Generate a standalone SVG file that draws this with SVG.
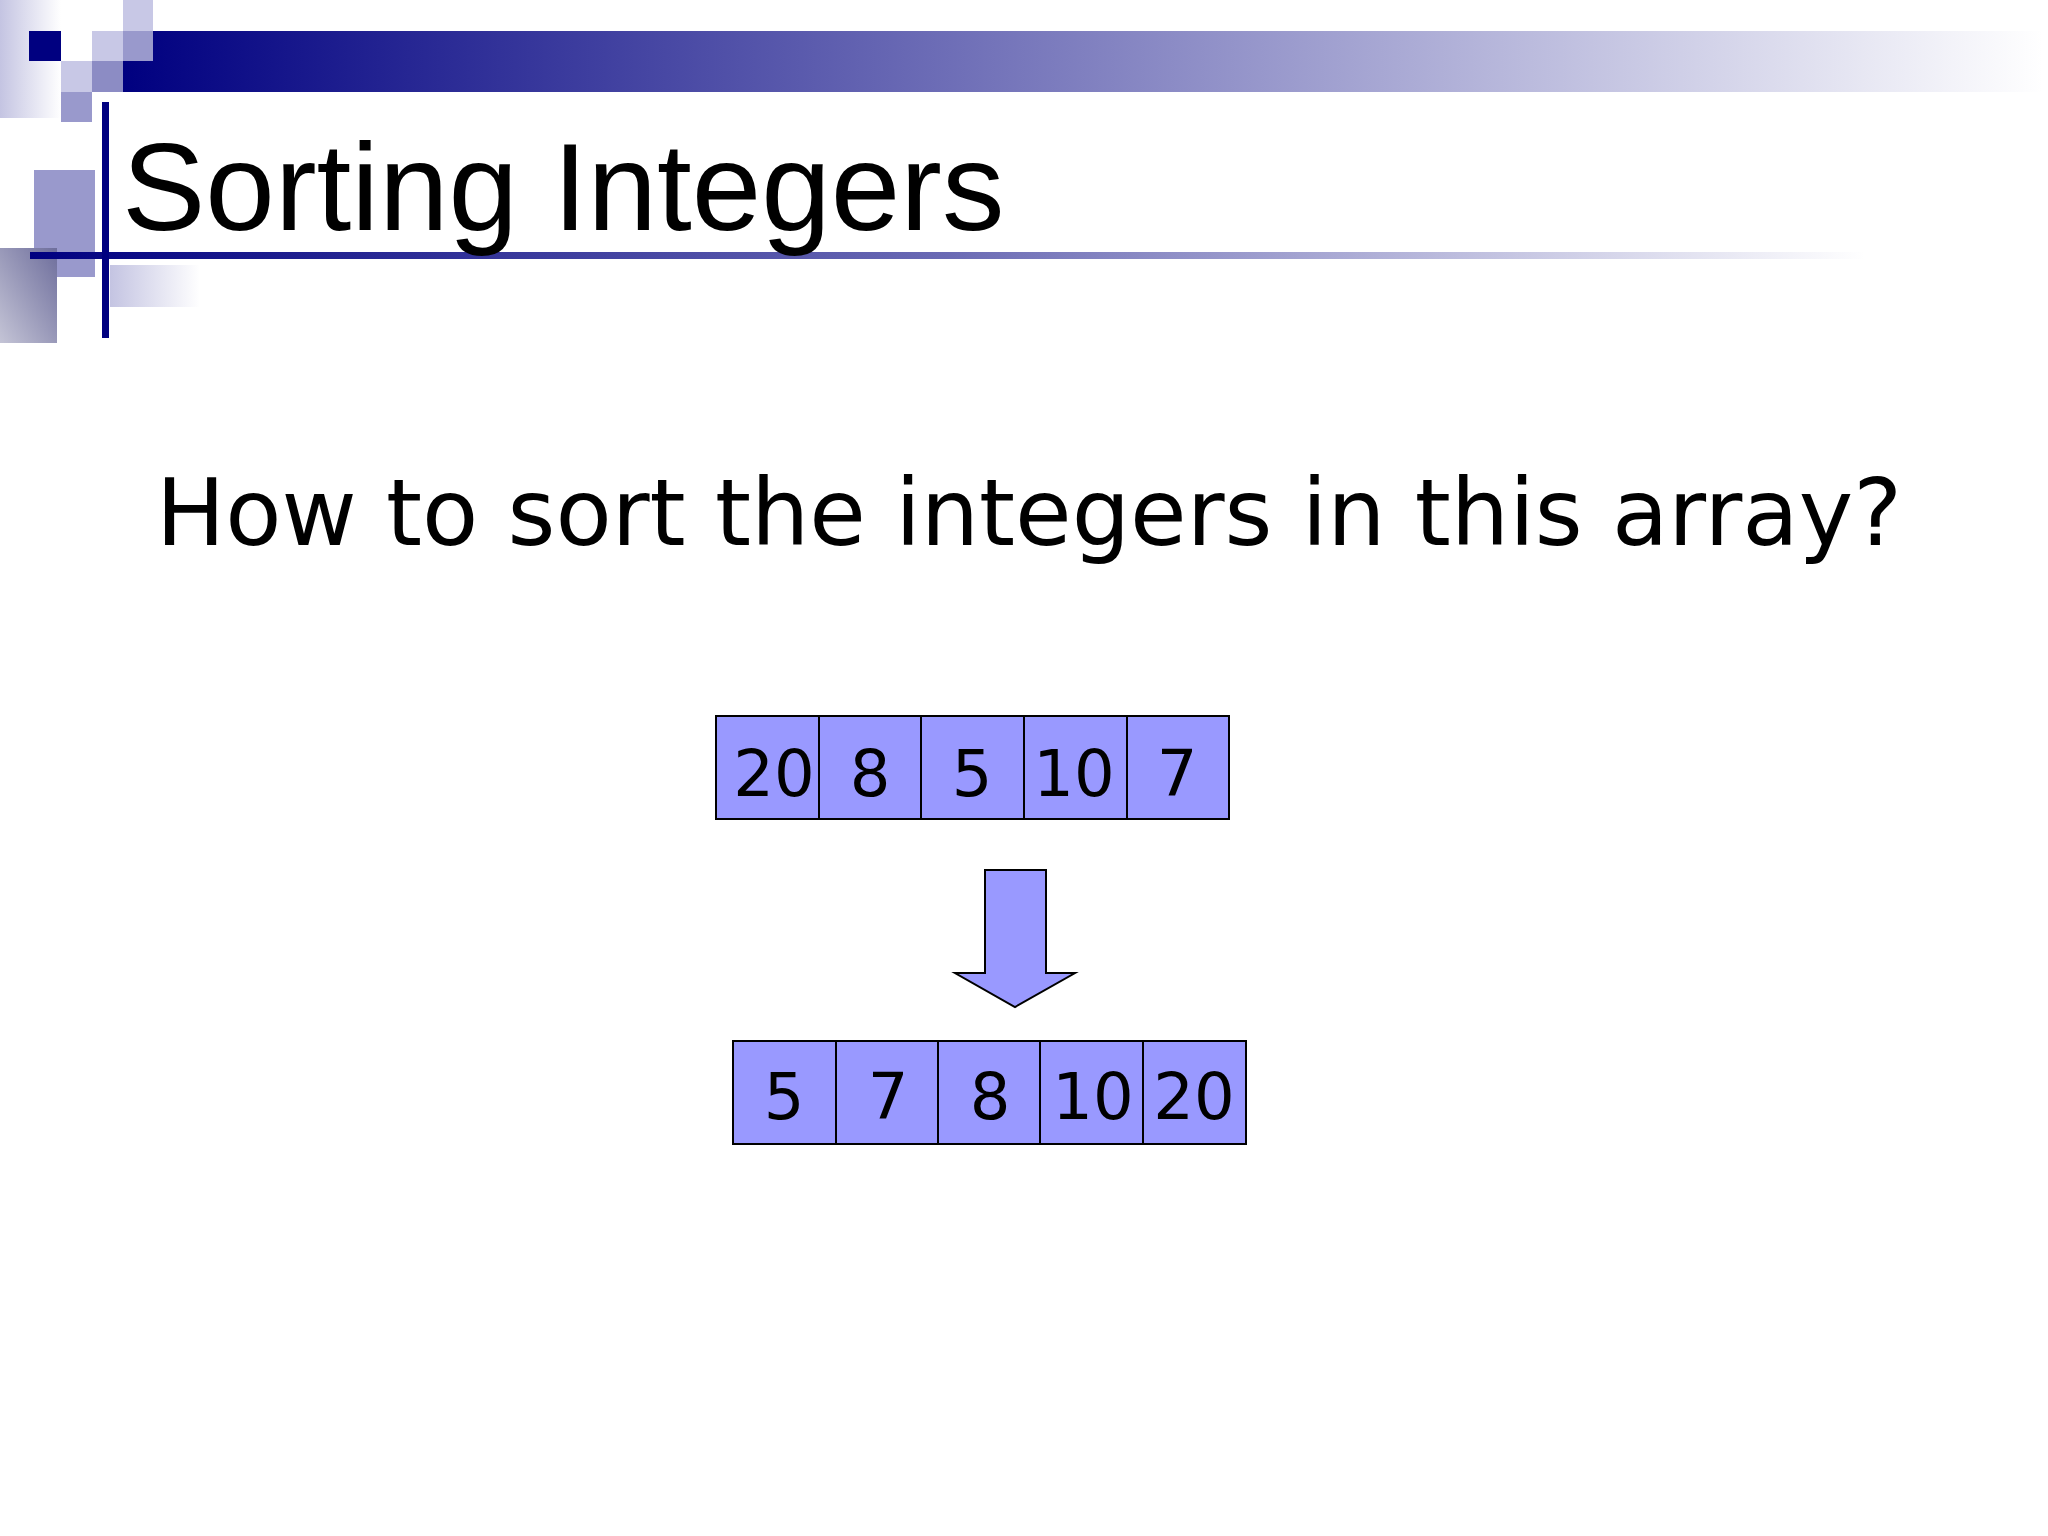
<svg xmlns="http://www.w3.org/2000/svg" width="2048" height="1536" viewBox="0 0 2048 1536">
  <defs>
    <linearGradient id="band" x1="0" y1="0" x2="1" y2="0">
      <stop offset="0" stop-color="#000080"/>
      <stop offset="1" stop-color="#ffffff"/>
    </linearGradient>
    <linearGradient id="rule" x1="0" y1="0" x2="1" y2="0">
      <stop offset="0" stop-color="#000080"/>
      <stop offset="0.5" stop-color="#6a6ab4"/>
      <stop offset="1" stop-color="#ffffff"/>
    </linearGradient>
    <linearGradient id="lightL" x1="0" y1="0" x2="1" y2="0">
      <stop offset="0" stop-color="#c4c4e2"/>
      <stop offset="1" stop-color="#ffffff"/>
    </linearGradient>
    <linearGradient id="graySq" x1="1" y1="0" x2="0" y2="1">
      <stop offset="0" stop-color="#6e6e9c"/>
      <stop offset="1" stop-color="#c4c4d6"/>
    </linearGradient>
    <style>
      .cell { fill: #9999ff; stroke: #000000; stroke-width: 2; }
      .num { font-family: "DejaVu Sans", Verdana, sans-serif; font-size: 64px; fill: #000000; text-anchor: middle; }
      .navy { fill: #000080; }
      .light { fill: #c8c8e6; }
      .mid { fill: #9999cc; }
    </style>
  </defs>
  <rect width="2048" height="1536" fill="#ffffff"/>

  <g id="decoration">
    <rect x="0" y="0" width="61" height="118" fill="url(#lightL)"/>
    <rect x="123" y="31" width="1920" height="61" fill="url(#band)"/>
    <rect class="light" x="123" y="0" width="30" height="31"/>
    <rect class="navy" x="29" y="31" width="32" height="30"/>
    <rect class="light" x="92" y="31" width="31" height="30"/>
    <rect class="mid" x="123" y="31" width="30" height="30"/>
    <rect class="light" x="61" y="61" width="31" height="31"/>
    <rect fill="#8c8cc4" x="92" y="61" width="31" height="31"/>
    <rect class="mid" x="61" y="92" width="31" height="30"/>
    <rect class="mid" x="34" y="170" width="61" height="107"/>
    <rect x="0" y="248" width="57" height="95" fill="url(#graySq)"/>
    <rect x="110" y="265" width="90" height="42" fill="url(#lightL)"/>
    <rect x="30" y="252" width="1835" height="7" fill="url(#rule)"/>
    <rect class="navy" x="102" y="102" width="7" height="236"/>
  </g>

  <g id="title">
    <text x="122" y="230" font-family="'Liberation Sans', Arial, sans-serif" font-size="125" fill="#000000">Sorting Integers</text>
  </g>

  <g id="question">
    <text x="156" y="545" font-family="'DejaVu Sans', Verdana, sans-serif" font-size="92" fill="#000000">How to sort the integers in this array?</text>
  </g>

  <g id="input-array">
    <g id="in-0"><rect class="cell" x="716" y="716" width="103" height="103"/><text class="num" x="774" y="796">20</text></g>
    <g id="in-1"><rect class="cell" x="819" y="716" width="102" height="103"/><text class="num" x="870" y="796">8</text></g>
    <g id="in-2"><rect class="cell" x="921" y="716" width="103" height="103"/><text class="num" x="972" y="796">5</text></g>
    <g id="in-3"><rect class="cell" x="1024" y="716" width="103" height="103"/><text class="num" x="1074" y="796">10</text></g>
    <g id="in-4"><rect class="cell" x="1127" y="716" width="102" height="103"/><text class="num" x="1177" y="796">7</text></g>
  </g>

  <g id="connectors">
    <polygon class="cell" points="985,870 1046,870 1046,973 1075,973 1015,1007 955,973 985,973"/>
  </g>

  <g id="output-array">
    <g id="out-0"><rect class="cell" x="733" y="1041" width="103" height="103"/><text class="num" x="784" y="1119">5</text></g>
    <g id="out-1"><rect class="cell" x="836" y="1041" width="102" height="103"/><text class="num" x="888" y="1119">7</text></g>
    <g id="out-2"><rect class="cell" x="938" y="1041" width="102" height="103"/><text class="num" x="990" y="1119">8</text></g>
    <g id="out-3"><rect class="cell" x="1040" y="1041" width="103" height="103"/><text class="num" x="1093" y="1119">10</text></g>
    <g id="out-4"><rect class="cell" x="1143" y="1041" width="103" height="103"/><text class="num" x="1194" y="1119">20</text></g>
  </g>
</svg>
